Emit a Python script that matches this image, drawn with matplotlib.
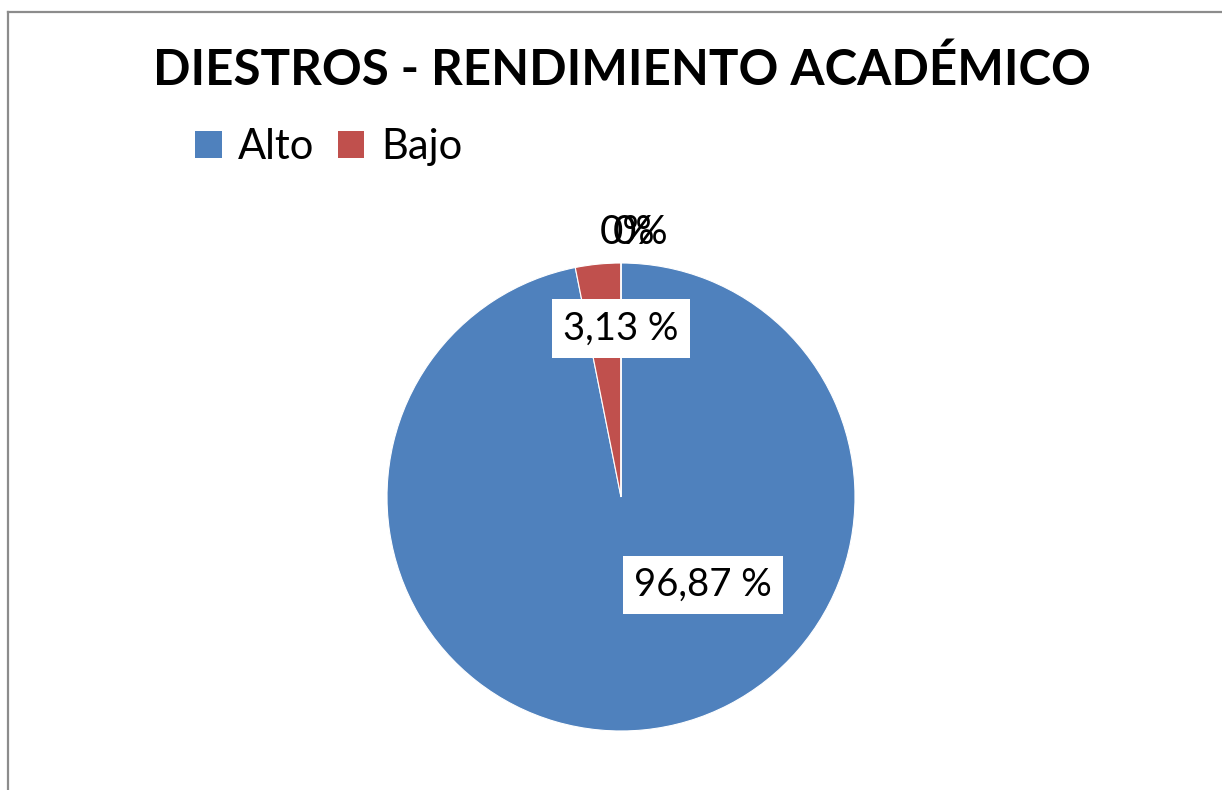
import matplotlib.pyplot as plt
from matplotlib.patches import Patch
from matplotlib.lines import Line2D

# datos del grafico
categorias = ["Alto", "Bajo", "", ""]
porcentajes = [96.87, 3.13, 0, 0]
etiquetas = ["96,87 %", "3,13 %", "0%", "0%"]
colores = ["#4F81BD", "#C0504D", "#9BBB59", "#8064A2"]
titulo = "DIESTROS - RENDIMIENTO ACADÉMICO"

plt.rcParams["font.family"] = ["Lato", "DejaVu Sans"]

W, H = 1222, 790
fig = plt.figure(figsize=(W / 100, H / 100), dpi=100)

# borde del area del grafico (solo arriba e izquierda visibles)
fig.add_artist(Line2D([8 / W, 1], [1 - 12 / H, 1 - 12 / H], color="#8c8c8c", lw=1.6))
fig.add_artist(Line2D([8 / W, 8 / W], [0, 1 - 12 / H], color="#8c8c8c", lw=1.6))

r_px = 234
cx, cy = 621, 497
span = 1.5
side = 2 * span * r_px
ax = fig.add_axes([(cx - side / 2) / W, (H - cy - side / 2) / H, side / W, side / H])

wedges, _ = ax.pie(porcentajes, colors=colores, startangle=90, counterclock=False,
                   wedgeprops={"linewidth": 0.8, "edgecolor": "white"})
ax.set_xlim(-span, span)
ax.set_ylim(-span, span)
ax.set_aspect("equal")
ax.axis("off")

# posiciones de las etiquetas (como en Excel, "mejor ajuste")
pos = [(0.35, -0.375), (0.0, 0.72), (0.03, 1.13), (0.085, 1.13)]
for (x, y), txt, v in zip(pos, etiquetas, porcentajes):
    if v > 0:
        ax.text(x, y, txt, ha="center", va="center", fontsize=27.5,
                bbox=dict(facecolor="white", edgecolor="none", pad=8))
    else:
        ax.text(x, y, txt, ha="center", va="center", fontsize=29)

fig.text(622 / W, 1 - 70 / H, titulo, ha="center", va="center",
         fontsize=35.5, fontweight="bold")

handles = [Patch(facecolor=c) for c in colores[:2]]
fig.legend(handles, categorias[:2], loc="center left",
           bbox_to_anchor=(195 / W, 1 - 147 / H), ncol=2, frameon=False,
           fontsize=30, handlelength=0.64, handleheight=0.64,
           handletextpad=0.4, columnspacing=0.55, borderpad=0, borderaxespad=0)

fig.savefig("out.png", dpi=100)
